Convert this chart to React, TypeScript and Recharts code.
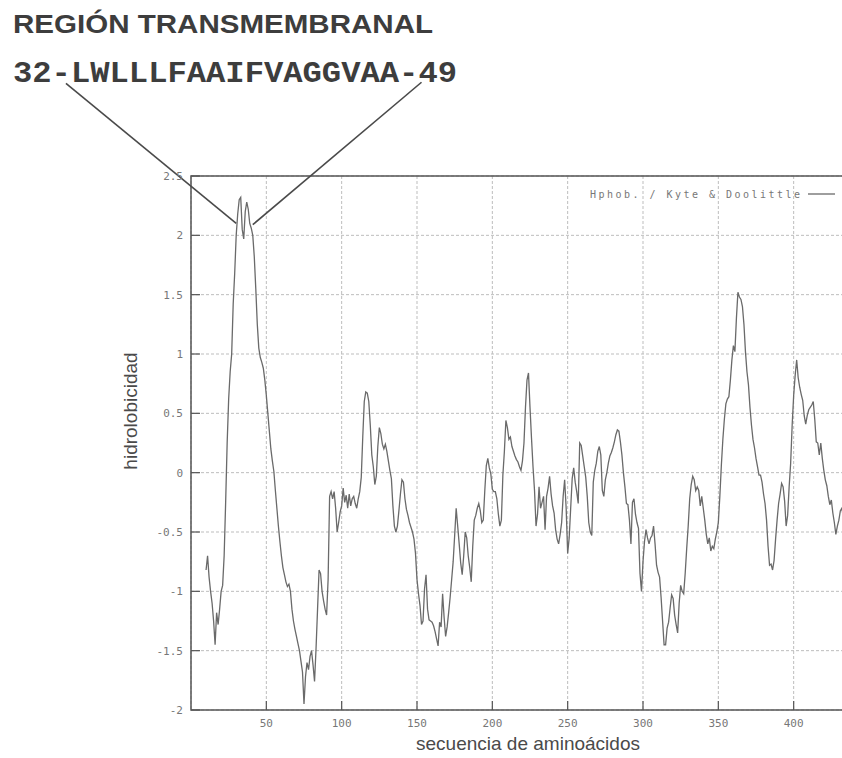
import React from 'react';
import {
  LineChart,
  Line,
  XAxis,
  YAxis,
  CartesianGrid,
  ReferenceLine,
  ReferenceArea,
} from 'recharts';

// Kyte & Doolittle hydrophobicity, one value per residue starting at START_RESIDUE
const START_RESIDUE = 10;
const HYDRO = [
  -0.82, -0.7, -0.88, -1.0, -1.1, -1.25, -1.45, -1.18, -1.28, -1.15,
  -1.0, -0.95, -0.7, -0.25, 0.25, 0.62, 0.85, 1.0, 1.42, 1.68,
  2.0, 2.18, 2.3, 2.32, 2.05, 1.97, 2.2, 2.28, 2.22, 2.1,
  2.06, 2.0, 1.82, 1.55, 1.25, 1.05, 0.97, 0.93, 0.88, 0.78,
  0.65, 0.5, 0.35, 0.2, 0.1, 0.01, -0.15, -0.3, -0.45, -0.58,
  -0.7, -0.8, -0.86, -0.92, -0.96, -0.94, -1.0, -1.15, -1.25, -1.32,
  -1.38, -1.44, -1.5, -1.59, -1.68, -1.95, -1.72, -1.6, -1.66, -1.55,
  -1.5, -1.62, -1.76, -1.48, -1.15, -0.82, -0.85, -1.0, -1.08, -1.15,
  -1.2, -0.9, -0.2, -0.16, -0.22, -0.16, -0.3, -0.5, -0.42, -0.33,
  -0.28, -0.13, -0.25, -0.19, -0.3, -0.18, -0.28, -0.22, -0.2, -0.26,
  -0.3, -0.22, -0.16, -0.04, 0.3, 0.6, 0.68, 0.67, 0.6, 0.4,
  0.15, 0.05, -0.1, -0.03, 0.22, 0.38, 0.33, 0.24, 0.2, 0.24,
  0.18, 0.1, 0.02, -0.05, -0.28, -0.45, -0.5, -0.45, -0.32, -0.18,
  -0.06, -0.08, -0.22, -0.31, -0.36, -0.42, -0.46, -0.5, -0.56, -0.68,
  -0.9, -1.02, -1.12, -1.28, -1.25, -0.98, -0.86, -1.15, -1.24, -1.25,
  -1.26, -1.29, -1.34, -1.4, -1.46, -1.26, -1.3, -1.02, -1.22, -1.38,
  -1.3, -1.18, -1.05, -0.9, -0.75, -0.53, -0.3, -0.45, -0.6, -0.76,
  -0.86, -0.7, -0.5, -0.55, -0.7, -0.8, -0.92, -0.62, -0.4, -0.36,
  -0.3, -0.26, -0.32, -0.42, -0.4, -0.15, 0.06, 0.12, 0.04, -0.01,
  -0.14, -0.16, -0.16, -0.22, -0.35, -0.45, -0.4, -0.02, 0.18, 0.44,
  0.38, 0.28, 0.3, 0.22, 0.18, 0.14, 0.11, 0.09, 0.05, 0.02,
  0.1, 0.25, 0.55, 0.78, 0.84, 0.55, 0.29, 0.05, -0.15, -0.45,
  -0.35, -0.12, -0.3, -0.25, -0.2, -0.48, -0.2, -0.13, -0.03, -0.18,
  -0.28, -0.34, -0.48, -0.56, -0.6, -0.52, -0.42, -0.2, -0.06, -0.3,
  -0.68, -0.55, -0.3, -0.05, 0.04, -0.08, -0.16, -0.26, 0.25, 0.23,
  0.14, 0.05, -0.04, -0.2, -0.42, -0.5, -0.53, -0.08, 0.02, 0.08,
  0.18, 0.22, 0.15, -0.15, -0.2, -0.06, 0.0, 0.08, 0.14, 0.17,
  0.21, 0.26, 0.32, 0.36, 0.35, 0.26, 0.15, 0.0, -0.12, -0.26,
  -0.27, -0.4, -0.6, -0.25, -0.22, -0.35, -0.42, -0.47, -0.85, -1.0,
  -0.75, -0.58, -0.48, -0.55, -0.6, -0.55, -0.53, -0.45, -0.6, -0.78,
  -0.84, -0.88, -1.05, -1.25, -1.45, -1.45, -1.31, -1.26, -1.14, -1.03,
  -1.06, -1.2, -1.28, -1.35, -1.1, -0.95, -1.0, -1.02, -0.85, -0.64,
  -0.45, -0.22, -0.1, -0.03, -0.06, -0.15, -0.12, -0.15, -0.28, -0.2,
  -0.3, -0.4, -0.52, -0.6, -0.55, -0.66, -0.62, -0.64, -0.56, -0.5,
  -0.42, -0.2, 0.06, 0.28, 0.45, 0.58, 0.62, 0.64, 0.78, 0.95,
  1.07, 1.02, 1.3, 1.52, 1.48, 1.46, 1.4, 1.25, 1.02, 0.85,
  0.74, 0.55, 0.4, 0.28, 0.21, 0.12, 0.05, -0.02, -0.02, -0.08,
  -0.18, -0.26, -0.4, -0.62, -0.78, -0.77, -0.82, -0.74, -0.56, -0.4,
  -0.26, -0.18, -0.09, -0.12, -0.24, -0.45, -0.36, -0.12, 0.08, 0.4,
  0.65, 0.82, 0.95, 0.8, 0.72, 0.66, 0.61, 0.48, 0.41, 0.48,
  0.53, 0.55, 0.57, 0.6, 0.45, 0.26, 0.25, 0.15, 0.25, 0.12,
  0.02, -0.06, -0.11, -0.2, -0.27, -0.23, -0.34, -0.42, -0.52, -0.45,
  -0.4, -0.32, -0.3, -0.38, -0.48, -0.52,
];

const X_TICKS = [50, 100, 150, 200, 250, 300, 350, 400];
const Y_TICKS = [-2, -1.5, -1, -0.5, 0, 0.5, 1, 1.5, 2, 2.5];

const TITLE = 'REGIÓN TRANSMEMBRANAL';
const SEGMENT_LABEL = '32-LWLLLFAAIFVAGGVAA-49';
const LEGEND_LABEL = 'Hphob. / Kyte & Doolittle';
const X_LABEL = 'secuencia de aminoácidos';
const Y_LABEL = 'hidrolobicidad';

// pointer lines from the sequence label down to the peak (data coords)
const POINTER_LEFT = [{ x: -83, y: 3.28 }, { x: 30, y: 2.1 }];
const POINTER_RIGHT = [{ x: 153, y: 3.29 }, { x: 41, y: 2.09 }];

const chartData = HYDRO.map((h, i) => ({ residue: START_RESIDUE + i, h }));

const LINE_COLOR = '#6a6a6a';
const BORDER = '#555';
const TICK_COLOR = '#777';
const TICK_FONT = '"DejaVu Sans Mono", monospace';
const MARGIN = 8;

const YTick = (props: any) => {
  const { x, y, payload } = props;
  const axisX = x + MARGIN;
  return (
    <g>
      <line x1={axisX} x2={axisX + 9} y1={y} y2={y} stroke={BORDER} strokeWidth={1.2} />
      <text x={x} y={y + 4} textAnchor="end" fontFamily={TICK_FONT} fontSize={11} fill={TICK_COLOR}>
        {payload.value}
      </text>
    </g>
  );
};

const XTick = (props: any) => {
  const { x, y, payload } = props;
  const axisY = y - MARGIN;
  return (
    <g>
      <line x1={x} x2={x} y1={axisY} y2={axisY - 9} stroke={BORDER} strokeWidth={1.2} />
      <text x={x} y={axisY + 17} textAnchor="middle" fontFamily={TICK_FONT} fontSize={11} fill={TICK_COLOR}>
        {payload.value}
      </text>
    </g>
  );
};

export default function App() {
  return (
    <div
      style={{
        position: 'absolute',
        left: 0,
        top: 0,
        width: 842,
        height: 758,
        overflow: 'hidden',
        background: '#fff',
      }}
    >
      <LineChart
        width={900}
        height={758}
        data={chartData}
        margin={{ top: 176, right: 31, left: 141, bottom: 8 }}
      >
        <CartesianGrid stroke="#bdbdbd" strokeDasharray="3 2" />
        <XAxis
          dataKey="residue"
          type="number"
          domain={[0, 450]}
          ticks={X_TICKS}
          height={40}
          axisLine={false}
          tickLine={false}
          tickSize={0}
          tickMargin={MARGIN}
          tick={<XTick />}
          interval={0}
        />
        <YAxis
          type="number"
          domain={[-2, 2.5]}
          ticks={Y_TICKS}
          width={50}
          axisLine={false}
          tickLine={false}
          tickSize={0}
          tickMargin={MARGIN}
          tick={<YTick />}
          interval={0}
        />
        <ReferenceArea
          x1={0}
          x2={450}
          y1={-2}
          y2={2.5}
          fill="none"
          stroke={BORDER}
          strokeWidth={1.5}
          ifOverflow="visible"
        />
        <Line
          type="linear"
          dataKey="h"
          stroke={LINE_COLOR}
          strokeWidth={1.3}
          dot={false}
          isAnimationActive={false}
        />
        <ReferenceLine segment={POINTER_LEFT} stroke="#4a4a4a" strokeWidth={1.6} ifOverflow="visible" />
        <ReferenceLine segment={POINTER_RIGHT} stroke="#4a4a4a" strokeWidth={1.6} ifOverflow="visible" />
      </LineChart>
      <svg
        width={842}
        height={758}
        style={{ position: 'absolute', left: 0, top: 0, pointerEvents: 'none' }}
      >
        <text
          x={13}
          y={33}
          fontFamily='"Liberation Sans", Arial, sans-serif'
          fontWeight="bold"
          fontSize={25}
          textLength={420}
          lengthAdjust="spacingAndGlyphs"
          fill="#3d3d3d"
        >
          {TITLE}
        </text>
        <text
          x={13}
          y={82}
          fontFamily='"Liberation Mono", "Courier New", monospace'
          fontWeight="bold"
          fontSize={29}
          textLength={444}
          lengthAdjust="spacingAndGlyphs"
          fill="#3d3d3d"
        >
          {SEGMENT_LABEL}
        </text>
        <text
          x={590}
          y={198}
          fontFamily={TICK_FONT}
          fontSize={10}
          textLength={210}
          fill={TICK_COLOR}
        >
          {LEGEND_LABEL}
        </text>
        <line x1={808} x2={835} y1={194} y2={194} stroke={LINE_COLOR} strokeWidth={1.3} />
        <text
          x={137}
          y={411}
          transform="rotate(-90 137 411)"
          textAnchor="middle"
          fontFamily='"Liberation Sans", Arial, sans-serif'
          fontSize={19}
          fill="#4a4a4a"
        >
          {Y_LABEL}
        </text>
        <text
          x={528}
          y={750}
          textAnchor="middle"
          fontFamily='"Liberation Sans", Arial, sans-serif'
          fontSize={19}
          fill="#4a4a4a"
        >
          {X_LABEL}
        </text>
      </svg>
    </div>
  );
}
